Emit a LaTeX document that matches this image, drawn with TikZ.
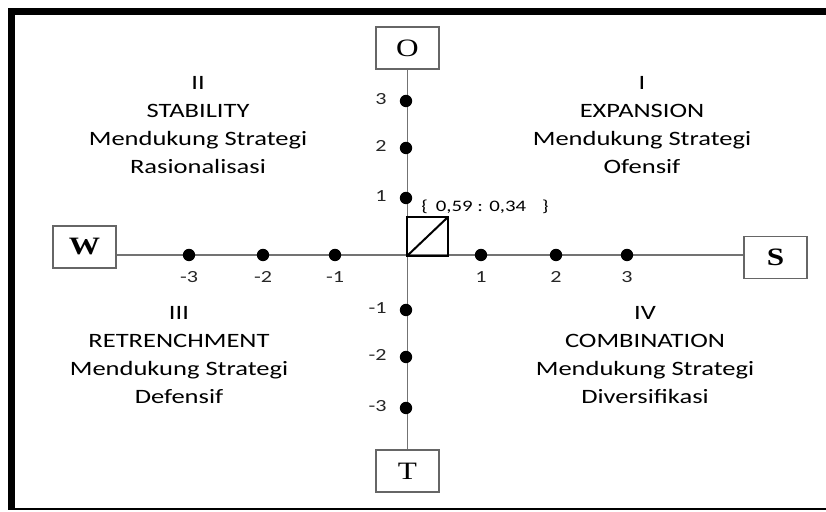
\documentclass[tikz,border=0pt]{standalone}
\usepackage{fontspec}
\setmainfont{Carlito}[FakeStretch=1.3]
\newfontfamily\boxfont{Liberation Serif}[FakeStretch=1.25]
\begin{document}
\begin{tikzpicture}[x=0.5pt,y=-0.5pt,
  lettbox/.style={draw=black!60, line width=0.9pt, minimum width=31.5pt, minimum height=21pt, inner sep=0pt, fill=white, font=\boxfont\fontsize{12.5}{13}\selectfont},
  axdot/.style={circle, fill=black, inner sep=0pt, minimum size=6.2pt},
  axline/.style={draw=black!55, line width=0.8pt},
  numlab/.style={inner sep=0pt, font=\fontsize{8.5}{9}\selectfont, text=black!85},
  qtext/.style={align=center, anchor=north, inner sep=0pt, font=\fontsize{10.2}{14}\selectfont, text=black}]
\useasboundingbox (0,0) rectangle (826,512);
% frame
\draw[line width=3.5pt] (11.5,510) -- (11.5,11.5) -- (826,11.5);
\draw[line width=1.1pt] (11.5,509) -- (826,509);
% origin
\coordinate (org) at (407,255);
% boxes
\node[lettbox] (O) at (407.5,48) {O};
\node[lettbox] (T) at (407.5,471) {T};
\node[lettbox] (W) at (84.5,247) {\bfseries W};
\node[lettbox] (S) at (775.5,257.5) {\bfseries S};
% axes
\draw[axline] (W.east |- org) -- (S.west |- org);
\draw[axline] (O.south) -- (T.north);
% horizontal dots
\foreach \nm/\xx/\lab in {hm3/189/-3, hm2/263/-2, hm1/335/-1, hp1/481/1, hp2/556/2, hp3/627/3}{
  \node[axdot] (\nm) at (\xx,255) {};
  \node[numlab] (\nm l) at (\xx,277) {\lab};
}
% vertical dots
\foreach \nm/\yy/\lab in {vp3/101/3, vp2/148/2, vp1/198/1, vm1/310/-1, vm2/357/-2, vm3/408/-3}{
  \node[axdot] (\nm) at (406,\yy) {};
  \node[numlab, anchor=east] (\nm l) at (387,\yy-2) {\lab};
}
% position square
\draw[line width=1pt] (407,256) rectangle (448,217);
\draw[line width=1pt] (407,256) -- (448,217);
\node[inner sep=0pt, anchor=west, font=\fontsize{8}{8}\selectfont] (pos) at (421,207) {\{\hspace{4pt}0,59 : 0,34\hspace{8pt}\}};
% quadrant texts
\node[qtext] (q2) at (198,76) {II\\STABILITY\\Mendukung Strategi\\Rasionalisasi};
\node[qtext] (q1) at (642,76) {I\\EXPANSION\\Mendukung Strategi\\Ofensif};
\node[qtext] (q3) at (179,306) {III\\RETRENCHMENT\\Mendukung Strategi\\Defensif};
\node[qtext] (q4) at (645,306) {IV\\COMBINATION\\Mendukung Strategi\\Diversifikasi};
\end{tikzpicture}
\end{document}
